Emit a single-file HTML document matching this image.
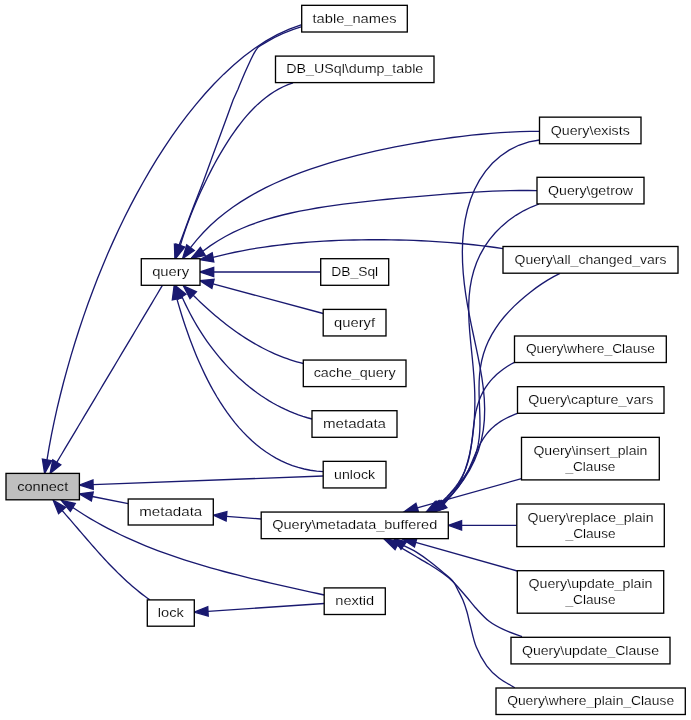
<!DOCTYPE html>
<html><head><meta charset="utf-8"><title>connect caller graph</title>
<style>
html,body{margin:0;padding:0;background:#fff;}
svg{display:block;will-change:transform;}
text{font-family:"Liberation Sans",sans-serif;font-size:13.33px;fill:#000;text-anchor:middle;}
</style></head><body>
<svg width="691" height="720" viewBox="0 0 691 720">
<rect x="0" y="0" width="691" height="720" fill="#fff"/>
<path d="M47.00,459.90 L49.10,447.35 L51.49,434.55 L54.17,421.55 L57.09,408.43 L60.26,395.23 L63.64,382.01 L67.23,368.80 L71.01,355.64 L74.99,342.54 L79.14,329.53 L83.46,316.62 L87.97,303.83 L92.64,291.15 L97.49,278.59 L102.51,266.14 L107.71,253.82 L113.11,241.62 L118.69,229.52 L124.48,217.53 L130.48,205.65 L136.71,193.88 L143.17,182.21 L149.87,170.65 L156.83,159.20 L164.07,147.89 L171.59,136.72 L179.41,125.72 L187.54,114.91 L196.01,104.33 L204.82,94.02 L213.98,84.02 L223.52,74.40 L233.45,65.23 L243.77,56.57 L254.50,48.53 L265.66,41.19 L277.26,34.67 L289.30,29.10 L301.80,24.60" fill="none" stroke="#191970" stroke-width="1.33"/>
<polygon points="44.60,473.40 42.40,459.08 51.60,460.72" fill="#191970" stroke="#191970" stroke-width="1.33"/>
<path d="M56.80,462.30 L59.51,457.77 L62.22,453.23 L64.93,448.70 L67.64,444.16 L70.35,439.63 L73.06,435.09 L75.77,430.56 L78.48,426.02 L81.19,421.49 L83.90,416.95 L86.61,412.42 L89.32,407.88 L92.02,403.35 L94.73,398.81 L97.44,394.28 L100.15,389.74 L102.86,385.21 L105.57,380.67 L108.27,376.13 L110.98,371.60 L113.69,367.06 L116.40,362.53 L119.10,357.99 L121.81,353.45 L124.52,348.92 L127.22,344.38 L129.93,339.84 L132.64,335.31 L135.34,330.77 L138.05,326.23 L140.76,321.70 L143.46,317.16 L146.17,312.62 L148.87,308.09 L151.58,303.55 L154.28,299.01 L156.99,294.47 L159.69,289.94 L162.40,285.40" fill="none" stroke="#191970" stroke-width="1.33"/>
<polygon points="50.10,473.40 52.80,459.89 60.80,464.71" fill="#191970" stroke="#191970" stroke-width="1.33"/>
<path d="M93.10,484.60 L323.20,476.00" fill="none" stroke="#191970" stroke-width="1.33"/>
<polygon points="79.30,485.00 92.96,479.93 93.24,489.27" fill="#191970" stroke="#191970" stroke-width="1.33"/>
<path d="M92.30,496.50 L128.20,503.60" fill="none" stroke="#191970" stroke-width="1.33"/>
<polygon points="79.30,493.80 93.25,491.93 91.35,501.07" fill="#191970" stroke="#191970" stroke-width="1.33"/>
<path d="M72.80,507.50 L78.56,511.32 L84.39,515.01 L90.27,518.58 L96.21,522.03 L102.21,525.37 L108.26,528.60 L114.37,531.71 L120.52,534.73 L126.72,537.64 L132.97,540.45 L139.26,543.17 L145.59,545.80 L151.95,548.34 L158.36,550.79 L164.80,553.17 L171.27,555.47 L177.77,557.69 L184.31,559.85 L190.86,561.93 L197.44,563.96 L204.05,565.92 L210.67,567.83 L217.31,569.69 L223.96,571.49 L230.63,573.25 L237.31,574.97 L244.00,576.65 L250.70,578.29 L257.40,579.90 L264.10,581.48 L270.80,583.04 L277.51,584.58 L284.20,586.09 L290.90,587.59 L297.58,589.08 L304.26,590.57 L310.92,592.04 L317.57,593.52 L324.20,595.00" fill="none" stroke="#191970" stroke-width="1.33"/>
<polygon points="61.30,500.40 75.25,503.53 70.35,511.47" fill="#191970" stroke="#191970" stroke-width="1.33"/>
<path d="M62.10,510.50 L64.23,512.91 L66.34,515.33 L68.45,517.75 L70.56,520.18 L72.66,522.62 L74.76,525.06 L76.86,527.50 L78.95,529.95 L81.05,532.40 L83.15,534.84 L85.25,537.28 L87.36,539.72 L89.47,542.16 L91.58,544.59 L93.71,547.01 L95.84,549.43 L97.98,551.83 L100.13,554.23 L102.30,556.61 L104.47,558.98 L106.66,561.34 L108.87,563.68 L111.09,566.00 L113.33,568.30 L115.59,570.59 L117.87,572.86 L120.17,575.10 L122.49,577.32 L124.83,579.52 L127.20,581.69 L129.60,583.84 L132.02,585.96 L134.47,588.04 L136.94,590.10 L139.45,592.13 L141.99,594.12 L144.56,596.09 L147.16,598.01 L149.80,599.90" fill="none" stroke="#191970" stroke-width="1.33"/>
<polygon points="53.30,500.40 65.62,507.43 58.58,513.57" fill="#191970" stroke="#191970" stroke-width="1.33"/>
<path d="M301.8,26.7 C290,30.2 277,35.8 266.7,41.9 C262,44.6 259,46.4 257.6,47.8 C255,51 253,55 251,59.3 C248.8,64 246.6,68.8 244.5,73.6 C242.3,78.8 240.1,84 238,89.2 C236.3,92.8 234.7,96.4 233.1,100 C229.4,110.4 225.4,120.9 221.7,131.3 C218.2,141 214.4,150.7 211,160.4 C208.5,167.4 205.9,174.4 203.4,181.3 C201,187.6 198.5,193.8 196.1,200 C193.3,207 190.8,213.9 188.2,220.8 C185.1,229 182.2,237.3 178.9,245.5" fill="none" stroke="#191970" stroke-width="1.33"/>
<polygon points="174.90,258.60 174.43,244.14 183.37,246.86" fill="#191970" stroke="#191970" stroke-width="1.33"/>
<path d="M180.30,245.50 L181.86,240.36 L183.49,235.29 L185.18,230.29 L186.92,225.36 L188.72,220.47 L190.58,215.62 L192.50,210.81 L194.46,206.03 L196.48,201.27 L198.56,196.53 L200.68,191.81 L202.86,187.11 L205.10,182.42 L207.39,177.74 L209.74,173.08 L212.15,168.43 L214.62,163.80 L217.16,159.19 L219.76,154.61 L222.44,150.06 L225.18,145.54 L228.01,141.07 L230.91,136.65 L233.91,132.29 L236.99,128.00 L240.16,123.79 L243.44,119.67 L246.83,115.66 L250.32,111.76 L253.94,108.00 L257.68,104.39 L261.55,100.93 L265.56,97.66 L269.72,94.59 L274.03,91.74 L278.51,89.12 L283.16,86.76 L287.98,84.68 L293.00,82.90" fill="none" stroke="#191970" stroke-width="1.33"/>
<polygon points="175.60,258.60 175.90,243.92 184.70,247.08" fill="#191970" stroke="#191970" stroke-width="1.33"/>
<path d="M190.50,247.70 L196.76,239.84 L203.36,232.46 L210.28,225.54 L217.50,219.04 L224.98,212.95 L232.72,207.23 L240.69,201.87 L248.86,196.83 L257.22,192.11 L265.75,187.67 L274.44,183.51 L283.26,179.59 L292.20,175.91 L301.25,172.44 L310.40,169.17 L319.62,166.10 L328.92,163.19 L338.27,160.45 L347.67,157.87 L357.11,155.42 L366.58,153.11 L376.08,150.93 L385.60,148.86 L395.13,146.91 L404.68,145.08 L414.23,143.35 L423.79,141.72 L433.35,140.21 L442.92,138.79 L452.49,137.49 L462.07,136.29 L471.66,135.21 L481.26,134.24 L490.88,133.39 L500.53,132.68 L510.21,132.11 L519.92,131.68 L529.68,131.40 L539.50,131.30" fill="none" stroke="#191970" stroke-width="1.33"/>
<polygon points="182.60,258.50 186.73,244.94 194.27,250.46" fill="#191970" stroke="#191970" stroke-width="1.33"/>
<path d="M202.80,251.30 L210.13,245.88 L217.64,240.96 L225.31,236.48 L233.14,232.43 L241.11,228.75 L249.20,225.42 L257.41,222.42 L265.71,219.70 L274.10,217.24 L282.58,215.02 L291.12,213.01 L299.72,211.19 L308.37,209.53 L317.06,208.02 L325.79,206.63 L334.54,205.36 L343.32,204.18 L352.11,203.08 L360.91,202.05 L369.72,201.08 L378.54,200.16 L387.35,199.28 L396.15,198.43 L404.96,197.61 L413.75,196.82 L422.54,196.06 L431.32,195.32 L440.10,194.61 L448.87,193.92 L457.64,193.28 L466.40,192.68 L475.17,192.12 L483.94,191.62 L492.73,191.20 L501.53,190.85 L510.35,190.61 L519.20,190.47 L528.08,190.46 L537.00,190.60" fill="none" stroke="#191970" stroke-width="1.33"/>
<polygon points="191.20,258.50 200.34,247.33 205.26,255.27" fill="#191970" stroke="#191970" stroke-width="1.33"/>
<path d="M213.00,257.40 L220.25,255.55 L227.53,253.83 L234.83,252.24 L242.16,250.78 L249.52,249.43 L256.89,248.19 L264.28,247.05 L271.69,246.01 L279.11,245.07 L286.54,244.22 L293.99,243.45 L301.44,242.77 L308.91,242.16 L316.38,241.62 L323.85,241.16 L331.33,240.77 L338.82,240.44 L346.30,240.18 L353.79,239.97 L361.28,239.83 L368.76,239.75 L376.25,239.72 L383.73,239.75 L391.21,239.84 L398.69,239.99 L406.16,240.19 L413.64,240.45 L421.10,240.76 L428.57,241.14 L436.02,241.58 L443.48,242.08 L450.93,242.64 L458.38,243.27 L465.82,243.97 L473.26,244.73 L480.70,245.58 L488.13,246.50 L495.57,247.51 L503.00,248.60" fill="none" stroke="#191970" stroke-width="1.33"/>
<polygon points="200.00,259.70 212.19,252.80 213.81,262.00" fill="#191970" stroke="#191970" stroke-width="1.33"/>
<path d="M213.70,272.00 L320.70,272.00" fill="none" stroke="#191970" stroke-width="1.33"/>
<polygon points="200.00,272.00 213.70,267.33 213.70,276.67" fill="#191970" stroke="#191970" stroke-width="1.33"/>
<path d="M213.00,283.90 L323.20,313.50" fill="none" stroke="#191970" stroke-width="1.33"/>
<polygon points="200.00,280.70 214.12,279.37 211.88,288.43" fill="#191970" stroke="#191970" stroke-width="1.33"/>
<path d="M193.20,295.20 L195.57,297.54 L197.97,299.86 L200.39,302.17 L202.83,304.46 L205.30,306.74 L207.79,308.99 L210.31,311.23 L212.85,313.45 L215.41,315.64 L217.99,317.81 L220.60,319.95 L223.23,322.06 L225.89,324.15 L228.57,326.21 L231.27,328.23 L234.00,330.22 L236.75,332.18 L239.53,334.10 L242.33,335.98 L245.15,337.82 L247.99,339.62 L250.86,341.38 L253.76,343.10 L256.68,344.77 L259.62,346.40 L262.58,347.98 L265.57,349.51 L268.58,350.99 L271.62,352.41 L274.68,353.79 L277.76,355.11 L280.87,356.37 L284.00,357.57 L287.16,358.72 L290.34,359.80 L293.54,360.82 L296.77,361.78 L300.02,362.67 L303.30,363.50" fill="none" stroke="#191970" stroke-width="1.33"/>
<polygon points="183.40,285.90 196.41,291.81 189.99,298.59" fill="#191970" stroke="#191970" stroke-width="1.33"/>
<path d="M182.00,296.70 L183.89,300.92 L185.86,305.13 L187.92,309.32 L190.07,313.49 L192.30,317.63 L194.61,321.75 L197.00,325.83 L199.47,329.88 L202.03,333.88 L204.66,337.85 L207.38,341.77 L210.17,345.63 L213.04,349.45 L215.98,353.21 L219.00,356.91 L222.10,360.55 L225.27,364.12 L228.51,367.62 L231.82,371.05 L235.21,374.40 L238.66,377.67 L242.19,380.86 L245.78,383.96 L249.45,386.98 L253.18,389.89 L256.97,392.71 L260.84,395.43 L264.76,398.05 L268.75,400.56 L272.81,402.96 L276.92,405.24 L281.10,407.41 L285.34,409.46 L289.64,411.38 L294.00,413.17 L298.41,414.83 L302.88,416.36 L307.41,417.75 L312.00,419.00" fill="none" stroke="#191970" stroke-width="1.33"/>
<polygon points="174.90,285.20 185.97,294.25 178.03,299.15" fill="#191970" stroke="#191970" stroke-width="1.33"/>
<path d="M176.90,298.90 L178.49,304.41 L180.16,310.01 L181.91,315.69 L183.76,321.43 L185.69,327.23 L187.72,333.07 L189.84,338.95 L192.06,344.84 L194.38,350.73 L196.80,356.63 L199.33,362.50 L201.97,368.35 L204.71,374.15 L207.57,379.91 L210.55,385.59 L213.64,391.20 L216.86,396.73 L220.19,402.15 L223.66,407.46 L227.25,412.64 L230.97,417.69 L234.82,422.59 L238.81,427.33 L242.94,431.90 L247.21,436.29 L251.63,440.48 L256.19,444.46 L260.89,448.22 L265.75,451.75 L270.77,455.04 L275.93,458.07 L281.26,460.83 L286.75,463.32 L292.40,465.51 L298.22,467.40 L304.20,468.98 L310.36,470.23 L316.69,471.14 L323.20,471.70" fill="none" stroke="#191970" stroke-width="1.33"/>
<polygon points="174.20,285.20 181.48,298.00 172.32,299.80" fill="#191970" stroke="#191970" stroke-width="1.33"/>
<path d="M226.50,516.30 L261.20,519.00" fill="none" stroke="#191970" stroke-width="1.33"/>
<polygon points="213.50,515.20 226.89,511.65 226.11,520.95" fill="#191970" stroke="#191970" stroke-width="1.33"/>
<path d="M208.00,611.40 L324.20,603.50" fill="none" stroke="#191970" stroke-width="1.33"/>
<polygon points="194.30,612.10 207.76,606.74 208.24,616.06" fill="#191970" stroke="#191970" stroke-width="1.33"/>
<path d="M417.30,507.90 L521.50,478.60" fill="none" stroke="#191970" stroke-width="1.33"/>
<polygon points="403.40,512.20 415.92,503.44 418.68,512.36" fill="#191970" stroke="#191970" stroke-width="1.33"/>
<path d="M461.60,525.35 L516.80,525.35" fill="none" stroke="#191970" stroke-width="1.33"/>
<polygon points="448.30,525.35 461.60,520.68 461.60,530.02" fill="#191970" stroke="#191970" stroke-width="1.33"/>
<path d="M415.70,542.40 L517.20,571.00" fill="none" stroke="#191970" stroke-width="1.33"/>
<polygon points="402.00,538.70 416.92,537.89 414.48,546.91" fill="#191970" stroke="#191970" stroke-width="1.33"/>
<path d="M397.2,545.5 C400.3,547.3 410.7,553.4 416.0,556.5 C421.3,559.6 424.8,561.6 429.1,564.3 C433.5,567.0 438.2,570.0 442.1,572.8 C446.0,575.6 449.5,578.4 452.5,581.2 C455.5,584.0 457.7,586.8 460.3,589.7 C462.9,592.6 465.6,595.8 468.1,598.8 C470.6,601.8 471.9,603.8 475.3,607.5 C478.8,611.2 484.1,617.4 488.8,621.0 C493.5,624.6 497.8,626.8 503.3,629.4 C508.8,632.0 518.9,635.5 522.0,636.7" fill="none" stroke="#191970" stroke-width="1.33"/>
<polygon points="383.90,538.70 399.33,541.34 395.07,549.66" fill="#191970" stroke="#191970" stroke-width="1.33"/>
<path d="M403.7,545.6 C405.8,546.6 411.8,549.3 416.0,551.9 C420.2,554.5 424.8,557.7 429.1,561.0 C433.5,564.3 438.2,568.2 442.1,571.5 C446.0,574.8 449.9,577.6 452.5,580.6 C455.1,583.6 456.0,586.5 457.7,589.7 C459.4,593.0 461.3,596.4 462.9,600.1 C464.4,603.8 465.8,608.0 467.0,612.0 C468.2,616.0 468.4,618.4 470.0,624.2 C471.6,630.1 473.5,640.2 476.3,647.1 C479.1,654.0 482.9,660.6 486.7,665.8 C490.5,671.0 494.5,674.6 499.2,678.3 C503.9,681.9 512.2,686.1 514.8,687.7" fill="none" stroke="#191970" stroke-width="1.33"/>
<polygon points="394.00,538.70 406.41,541.79 400.99,549.41" fill="#191970" stroke="#191970" stroke-width="1.33"/>
<path d="M444.00,503.99 L450.66,496.32 L457.41,488.07 L463.81,479.30 L469.54,470.08 L474.43,460.47 L478.35,450.56 L481.30,440.40 L483.29,430.07 L484.38,419.62 L484.67,409.11 L484.27,398.56 L483.29,388.02 L481.84,377.50 L480.04,367.02 L478.01,356.57 L475.83,346.16 L473.60,335.76 L471.40,325.38 L469.31,314.99 L467.39,304.57 L465.69,294.11 L464.28,283.60 L463.22,273.03 L462.56,262.42 L462.35,251.77 L462.67,241.10 L463.58,230.46 L465.15,219.91 L467.46,209.51 L470.57,199.34 L474.56,189.51 L479.50,180.14 L485.42,171.36 L492.35,163.32 L500.27,156.17 L509.11,150.09 L518.76,145.25 L528.99,141.83 L539.50,140.00" fill="none" stroke="#191970" stroke-width="1.33"/>
<polygon points="433.50,512.20 441.13,500.31 446.88,507.67" fill="#191970" stroke="#191970" stroke-width="1.33"/>
<path d="M439.30,505.14 L446.94,499.48 L453.00,493.06 L457.85,486.01 L461.76,478.47 L464.94,470.53 L467.52,462.29 L469.63,453.83 L471.32,445.22 L472.66,436.51 L473.66,427.74 L474.36,418.93 L474.76,410.12 L474.88,401.31 L474.75,392.52 L474.38,383.73 L473.80,374.96 L473.07,366.20 L472.23,357.44 L471.33,348.69 L470.46,339.93 L469.68,331.16 L469.07,322.40 L468.72,313.65 L468.72,304.92 L469.15,296.24 L470.09,287.62 L471.60,279.10 L473.76,270.73 L476.61,262.54 L480.18,254.58 L484.49,246.93 L489.52,239.63 L495.25,232.75 L501.62,226.37 L508.54,220.54 L515.90,215.33 L523.55,210.80 L531.31,207.01 L539.00,204.00" fill="none" stroke="#191970" stroke-width="1.33"/>
<polygon points="428.00,512.20 436.83,501.18 441.78,509.10" fill="#191970" stroke="#191970" stroke-width="1.33"/>
<path d="M441.05,504.75 L445.06,499.78 L449.71,494.55 L454.60,489.06 L459.41,483.34 L463.93,477.39 L467.97,471.24 L471.44,464.90 L474.29,458.39 L476.51,451.73 L478.12,444.94 L479.18,438.03 L479.77,431.04 L479.98,423.97 L479.91,416.86 L479.67,409.71 L479.37,402.55 L479.12,395.41 L479.02,388.29 L479.16,381.22 L479.62,374.22 L480.47,367.31 L481.76,360.50 L483.52,353.81 L485.77,347.25 L488.52,340.85 L491.75,334.62 L495.44,328.56 L499.56,322.70 L504.05,317.05 L508.87,311.61 L513.96,306.39 L519.26,301.40 L524.72,296.66 L530.30,292.15 L535.97,287.90 L541.74,283.89 L547.62,280.14 L553.67,276.65 L560.00,273.40" fill="none" stroke="#191970" stroke-width="1.33"/>
<polygon points="430.00,512.20 438.44,500.87 443.66,508.62" fill="#191970" stroke="#191970" stroke-width="1.33"/>
<path d="M437.54,505.54 L440.68,502.69 L443.86,499.71 L447.00,496.61 L450.05,493.40 L452.96,490.06 L455.70,486.60 L458.23,483.03 L460.54,479.35 L462.61,475.57 L464.45,471.69 L466.06,467.72 L467.44,463.67 L468.62,459.54 L469.61,455.34 L470.44,451.09 L471.13,446.79 L471.72,442.45 L472.24,438.09 L472.73,433.70 L473.21,429.32 L473.74,424.94 L474.33,420.58 L475.03,416.25 L475.87,411.97 L476.88,407.75 L478.09,403.59 L479.52,399.52 L481.18,395.55 L483.10,391.69 L485.29,387.96 L487.74,384.37 L490.45,380.93 L493.40,377.65 L496.58,374.56 L499.96,371.66 L503.50,368.98 L507.14,366.51 L510.84,364.28 L514.50,362.30" fill="none" stroke="#191970" stroke-width="1.33"/>
<polygon points="426.00,512.20 435.21,501.49 439.88,509.58" fill="#191970" stroke="#191970" stroke-width="1.33"/>
<path d="M442.48,504.36 L444.54,502.13 L446.67,499.89 L448.83,497.63 L450.99,495.35 L453.11,493.02 L455.17,490.65 L457.15,488.23 L459.05,485.75 L460.86,483.21 L462.57,480.62 L464.18,477.97 L465.71,475.27 L467.14,472.52 L468.51,469.73 L469.81,466.91 L471.07,464.06 L472.29,461.20 L473.51,458.32 L474.72,455.45 L475.96,452.60 L477.24,449.77 L478.58,446.97 L480.00,444.22 L481.51,441.53 L483.12,438.91 L484.85,436.36 L486.71,433.90 L488.71,431.54 L490.84,429.29 L493.11,427.14 L495.52,425.11 L498.05,423.21 L500.70,421.43 L503.44,419.78 L506.25,418.26 L509.10,416.87 L511.95,415.60 L514.77,414.44 L517.50,413.40" fill="none" stroke="#191970" stroke-width="1.33"/>
<polygon points="431.70,512.20 439.74,500.59 445.23,508.14" fill="#191970" stroke="#191970" stroke-width="1.33"/>
<rect x="301.7" y="5.33" width="105.60000000000002" height="26.67" fill="#fff" stroke="#000" stroke-width="1.33"/>
<text x="354.5" y="23.00" textLength="84" lengthAdjust="spacingAndGlyphs" stroke="#fff" stroke-width="0.15">table_names</text>
<rect x="275.5" y="56.1" width="158.5" height="26.499999999999993" fill="#fff" stroke="#000" stroke-width="1.33"/>
<text x="354.75" y="73.00" textLength="137" lengthAdjust="spacingAndGlyphs" stroke="#fff" stroke-width="0.15">DB_USql\dump_table</text>
<rect x="539.5" y="117.15" width="101.5" height="26.599999999999994" fill="#fff" stroke="#000" stroke-width="1.33"/>
<text x="590.25" y="135.00" textLength="79" lengthAdjust="spacingAndGlyphs" stroke="#fff" stroke-width="0.15">Query\exists</text>
<rect x="537" y="177.3" width="107" height="26.599999999999994" fill="#fff" stroke="#000" stroke-width="1.33"/>
<text x="590.5" y="195.00" textLength="85" lengthAdjust="spacingAndGlyphs" stroke="#fff" stroke-width="0.15">Query\getrow</text>
<rect x="503" y="246.5" width="175" height="26.69999999999999" fill="#fff" stroke="#000" stroke-width="1.33"/>
<text x="590.5" y="264.00" textLength="152" lengthAdjust="spacingAndGlyphs" stroke="#fff" stroke-width="0.15">Query\all_changed_vars</text>
<rect x="141.3" y="258.7" width="58.69999999999999" height="26.600000000000023" fill="#fff" stroke="#000" stroke-width="1.33"/>
<text x="170.65" y="276.00" textLength="37" lengthAdjust="spacingAndGlyphs" stroke="#fff" stroke-width="0.15">query</text>
<rect x="320.7" y="258.7" width="68.0" height="26.600000000000023" fill="#fff" stroke="#000" stroke-width="1.33"/>
<text x="354.7" y="276.00" textLength="47" lengthAdjust="spacingAndGlyphs" stroke="#fff" stroke-width="0.15">DB_Sql</text>
<rect x="323.2" y="309.4" width="62.80000000000001" height="26.55000000000001" fill="#fff" stroke="#000" stroke-width="1.33"/>
<text x="354.6" y="327.00" textLength="41" lengthAdjust="spacingAndGlyphs" stroke="#fff" stroke-width="0.15">queryf</text>
<rect x="303.3" y="360.05" width="102.69999999999999" height="26.55000000000001" fill="#fff" stroke="#000" stroke-width="1.33"/>
<text x="354.65" y="377.00" textLength="82" lengthAdjust="spacingAndGlyphs" stroke="#fff" stroke-width="0.15">cache_query</text>
<rect x="312" y="410.7" width="85" height="26.600000000000023" fill="#fff" stroke="#000" stroke-width="1.33"/>
<text x="354.5" y="428.00" textLength="63" lengthAdjust="spacingAndGlyphs" stroke="#fff" stroke-width="0.15">metadata</text>
<rect x="323.2" y="461.35" width="62.80000000000001" height="26.599999999999966" fill="#fff" stroke="#000" stroke-width="1.33"/>
<text x="354.6" y="479.00" textLength="41" lengthAdjust="spacingAndGlyphs" stroke="#fff" stroke-width="0.15">unlock</text>
<rect x="6.0" y="473.4" width="73.4" height="26.400000000000034" fill="#bfbfbf" stroke="#000" stroke-width="1.33"/>
<text x="42.7" y="491.00" textLength="51" lengthAdjust="spacingAndGlyphs" stroke="#bfbfbf" stroke-width="0.15">connect</text>
<rect x="128.2" y="499" width="85.10000000000002" height="26" fill="#fff" stroke="#000" stroke-width="1.33"/>
<text x="170.75" y="516.00" textLength="63" lengthAdjust="spacingAndGlyphs" stroke="#fff" stroke-width="0.15">metadata</text>
<rect x="261.2" y="512.05" width="187.10000000000002" height="26.600000000000023" fill="#fff" stroke="#000" stroke-width="1.33"/>
<text x="354.75" y="529.00" textLength="165" lengthAdjust="spacingAndGlyphs" stroke="#fff" stroke-width="0.15">Query\metadata_buffered</text>
<rect x="324.2" y="587.9" width="61.10000000000002" height="26.600000000000023" fill="#fff" stroke="#000" stroke-width="1.33"/>
<text x="354.75" y="605.00" textLength="39" lengthAdjust="spacingAndGlyphs" stroke="#fff" stroke-width="0.15">nextid</text>
<rect x="147.3" y="599.9" width="47.0" height="26.300000000000068" fill="#fff" stroke="#000" stroke-width="1.33"/>
<text x="170.8" y="617.00" textLength="26" lengthAdjust="spacingAndGlyphs" stroke="#fff" stroke-width="0.15">lock</text>
<rect x="514.5" y="336.0" width="151.79999999999995" height="26.5" fill="#fff" stroke="#000" stroke-width="1.33"/>
<text x="590.4" y="353.00" textLength="129" lengthAdjust="spacingAndGlyphs" stroke="#fff" stroke-width="0.15">Query\where_Clause</text>
<rect x="517.5" y="386.7" width="146.5" height="26.600000000000023" fill="#fff" stroke="#000" stroke-width="1.33"/>
<text x="590.75" y="404.00" textLength="125" lengthAdjust="spacingAndGlyphs" stroke="#fff" stroke-width="0.15">Query\capture_vars</text>
<rect x="521.5" y="437.35" width="137.79999999999995" height="42.549999999999955" fill="#fff" stroke="#000" stroke-width="1.33"/>
<text x="590.4" y="455.00" textLength="114" lengthAdjust="spacingAndGlyphs" stroke="#fff" stroke-width="0.15">Query\insert_plain</text>
<text x="590.4" y="471.00" textLength="50" lengthAdjust="spacingAndGlyphs" stroke="#fff" stroke-width="0.15">_Clause</text>
<rect x="516.8" y="504.0" width="147.5" height="42.60000000000002" fill="#fff" stroke="#000" stroke-width="1.33"/>
<text x="590.55" y="522.00" textLength="126" lengthAdjust="spacingAndGlyphs" stroke="#fff" stroke-width="0.15">Query\replace_plain</text>
<text x="590.55" y="538.00" textLength="50" lengthAdjust="spacingAndGlyphs" stroke="#fff" stroke-width="0.15">_Clause</text>
<rect x="517.3" y="570.7" width="146.4000000000001" height="42.5" fill="#fff" stroke="#000" stroke-width="1.33"/>
<text x="590.5" y="588.00" textLength="124" lengthAdjust="spacingAndGlyphs" stroke="#fff" stroke-width="0.15">Query\update_plain</text>
<text x="590.5" y="604.00" textLength="50" lengthAdjust="spacingAndGlyphs" stroke="#fff" stroke-width="0.15">_Clause</text>
<rect x="511" y="637.3" width="159" height="26.600000000000023" fill="#fff" stroke="#000" stroke-width="1.33"/>
<text x="590.5" y="655.00" textLength="137" lengthAdjust="spacingAndGlyphs" stroke="#fff" stroke-width="0.15">Query\update_Clause</text>
<rect x="496" y="688.0" width="189.29999999999995" height="26.5" fill="#fff" stroke="#000" stroke-width="1.33"/>
<text x="590.65" y="705.00" textLength="167" lengthAdjust="spacingAndGlyphs" stroke="#fff" stroke-width="0.15">Query\where_plain_Clause</text>
</svg>
</body></html>
